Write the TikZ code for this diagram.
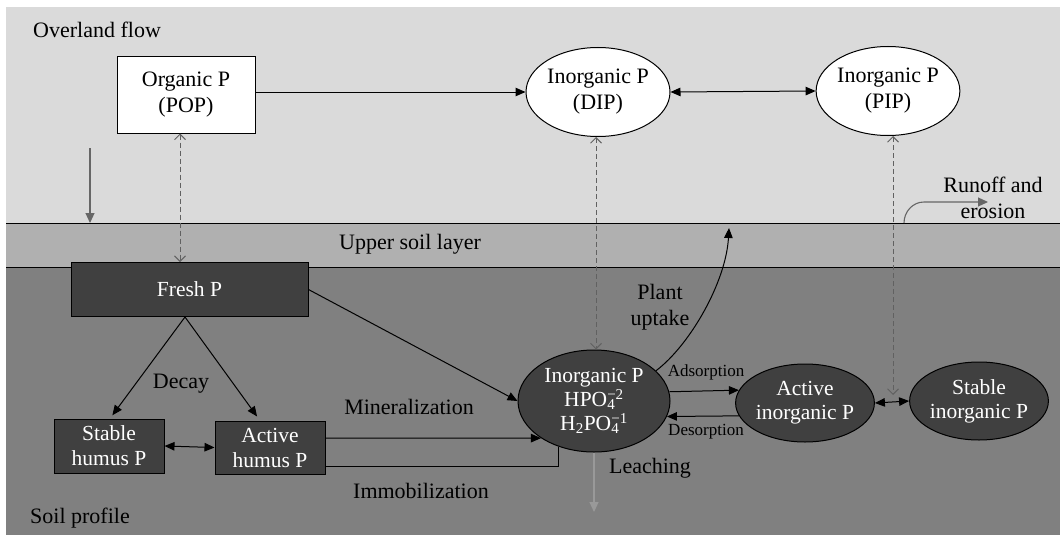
\documentclass[tikz,border=0pt]{standalone}
\usepackage{fontspec}
\setmainfont{Liberation Serif}
\usetikzlibrary{arrows.meta,shapes.geometric}
\definecolor{overland}{gray}{0.855}
\definecolor{upper}{gray}{0.69}
\definecolor{soil}{gray}{0.5}
\definecolor{darkn}{gray}{0.25}
\definecolor{arrowgray}{gray}{0.4}
\definecolor{leachgray}{gray}{0.6}
\definecolor{dashgray}{gray}{0.38}
\newcommand{\substack}[2]{\rlap{\textsubscript{#1}}\textsuperscript{#2}}
\begin{document}
\begin{tikzpicture}[x=1pt,y=-1pt,
  font=\fontsize{22}{26}\selectfont,
  whitebox/.style={draw=black,fill=white,line width=1pt,align=center,inner sep=0pt},
  whiteell/.style={ellipse,draw=black,fill=white,line width=1pt,align=center,inner sep=0pt},
  darkbox/.style={draw=black,fill=darkn,text=white,line width=1pt,align=center,inner sep=0pt,font=\fontsize{21.5}{25}\selectfont},
  darkell/.style={ellipse,draw=black,fill=darkn,text=white,line width=1pt,align=center,inner sep=0pt,font=\fontsize{21.5}{24}\selectfont},
  flow/.style={-{Triangle[length=10pt,width=8.5pt]},line width=1pt},
  bothflow/.style={{Triangle[length=10pt,width=8.5pt]}-{Triangle[length=10pt,width=8.5pt]},line width=1pt},
  plainline/.style={line width=1pt},
  grayflow/.style={-{Triangle[length=10pt,width=9pt]},line width=1.1pt,draw=#1},
  dashlink/.style={{Straight Barb[length=5.5pt,width=11pt]}-{Straight Barb[length=5.5pt,width=11pt]},draw=dashgray,line width=1pt,dash pattern=on 5pt off 3pt},
  lbl/.style={inner sep=0pt,align=center},
  smalllbl/.style={inner sep=0pt,align=center,font=\fontsize{17}{20}\selectfont}
]
\useasboundingbox (0,0) rectangle (1060,535);
% layers
\fill[white] (0,0) rectangle (1060,535);
\fill[overland] (6,7) rectangle (1060,223);
\fill[upper] (6,223) rectangle (1060,267);
\fill[soil] (6,267) rectangle (1060,535);
\draw[line width=1pt] (6,223) -- (1060,223);
\draw[line width=1pt] (6,267) -- (1060,267);

% layer labels
\node[lbl,anchor=base west] (overlandlbl) at (33,38) {Overland flow};
\node[lbl,anchor=base west] (upperlbl) at (339,249) {Upper soil layer};
\node[lbl,anchor=base west] (soillbl) at (30,523) {Soil profile};

% overland nodes
\node[whitebox,minimum width=138pt,minimum height=76pt] (pop) at (186,95) {Organic P\\(POP)};
\node[whiteell,minimum width=144pt,minimum height=89pt] (dip) at (598,92) {Inorganic P\\(DIP)};
\node[whiteell,minimum width=136pt,minimum height=89pt] (pip) at (888,91) {Inorganic P\\(PIP)};

% soil nodes
\node[darkbox,minimum width=237pt,minimum height=54pt] (fresh) at (189.5,289.5) {Fresh P};
\node[darkbox,minimum width=110pt,minimum height=54pt] (stabhum) at (109,446) {Stable\\humus P};
\node[darkbox,minimum width=110pt,minimum height=53pt] (acthum) at (270,447.5) {Active\\humus P};
\node[darkell,minimum width=152pt,minimum height=102pt] (inorg) at (594,401)
  {Inorganic P\\HPO\substack{4}{\textminus 2}\\H\textsubscript{2}PO\substack{4}{\textminus 1}};
\node[darkell,minimum width=132pt,minimum height=78pt] (actinorg) at (805,403) {Active\\inorganic P};
\node[darkell,minimum width=134pt,minimum height=78pt] (stabinorg) at (979,401) {Stable\\inorganic P};

% free end coordinates
\coordinate (depo0) at (90,148);
\coordinate (depo1) at (90,223);
\coordinate (ro0) at (904,223);
\coordinate (ro1) at (988,202);
\coordinate (uptake) at (729,228);
\coordinate (leach) at (594,512);
\coordinate (pipend) at (893,395);

% overland connectors
\draw[flow] (pop.east |- dip.west) -- (dip.west);
\draw[bothflow] (dip.east) -- (pip.west);
\draw[grayflow=arrowgray] (depo0) -- (depo1);
\draw[grayflow=arrowgray] (ro0) to[out=90,in=180] ([xshift=-64pt]ro1) -- (ro1);

% dashed exchanges
\draw[dashlink] ([xshift=-6pt]pop.south) -- ([xshift=-9.5pt]fresh.north);
\draw[dashlink] ([xshift=-2pt]dip.south) -- ([xshift=2pt]inorg.north);
\draw[dashlink] ([xshift=5pt]pip.south) -- (pipend);

% soil connectors
\draw[flow,shorten >=4pt] ([xshift=-4.5pt]fresh.south) -- ([xshift=1pt]stabhum.north);
\draw[flow,shorten >=5pt] ([xshift=-4.5pt]fresh.south) -- ([xshift=-10pt]acthum.north);
\draw[bothflow] (stabhum.east) -- (acthum.west);
\draw[flow] (fresh.east) -- (inorg.west);
\draw[flow] ([yshift=9.5pt]acthum.east) -- (inorg.215);
\draw[plainline] (inorg.232) |- ([yshift=-18.5pt]acthum.east);
\draw[flow] (inorg.26) .. controls (690,345) and (726,282) .. (uptake);
\draw[grayflow=leachgray] (inorg.south) -- (leach);
\draw[flow] (inorg.7.6) -- (actinorg.169.2);
\draw[flow] (actinorg.191.8) -- (inorg.348.3);
\draw[bothflow] (actinorg.east) -- (stabinorg.west);

% process labels
\node[lbl] (decaylbl) at (181,384) {Decay};
\node[lbl] (minlbl) at (409,407) {Mineralization};
\node[lbl] (immlbl) at (421,491) {Immobilization};
\node[lbl] (plantlbl) at (660,307) {Plant\\uptake};
\node[lbl] (leachlbl) at (650,468) {Leaching};
\node[smalllbl] (adslbl) at (706,372) {Adsorption};
\node[smalllbl] (deslbl) at (706,432) {Desorption};
\node[lbl] (runofflbl) at (993,198) {Runoff and\\erosion};
\end{tikzpicture}
\end{document}
